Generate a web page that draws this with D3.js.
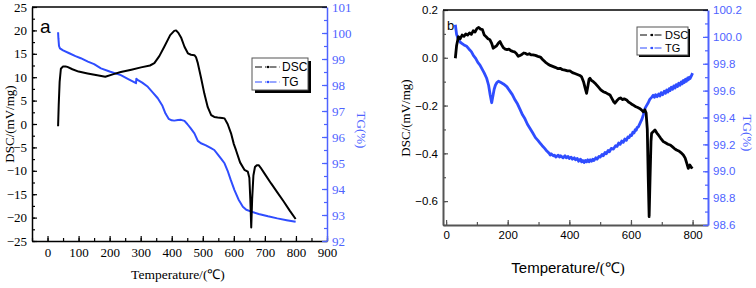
<!DOCTYPE html>
<html lang="en">
<head>
<meta charset="utf-8">
<title>DSC / TG</title>
<script src="https://cdnjs.cloudflare.com/ajax/libs/d3/7.8.5/d3.min.js"></script>
<style>
  body { margin: 0; background: #fff; }
  svg { display: block; }
</style>
</head>
<body>
<script>
// panel a : [temperature, value]
var dscA = [[34,-0.5],[36,4],[39,9],[43,11.8],[50,12.3],[58,12.3],[64,12.2],[80,11.7],[100,11.2],[129,10.8],[160,10.4],[186,10.1],[210,10.6],[236,11.1],[270,11.6],[301,12.1],[330,12.5],[344,13.0],[360,14.5],[376,16.5],[395,19.0],[408,19.9],[414,20.0],[422,19.4],[430,18.5],[441,16.5],[452,15.1],[462,14.8],[473,14.7],[478,14.3],[484,13.0],[494,10.0],[505,6.5],[516,3.6],[527,1.9],[537,1.5],[548,1.4],[562,1.3],[570,1.2],[580,0],[591,-2.0],[600,-4.3],[607,-5.6],[620,-8.2],[634,-9.8],[645,-10.2],[650,-11.5],[653,-16],[656,-22.1],[659,-16],[663,-11],[668,-9.2],[674,-8.8],[680,-8.8],[686,-9.3],[700,-10.7],[720,-12.7],[740,-14.6],[760,-16.5],[780,-18.5],[799,-20.3]];
var tgA = [[34,100.03],[35,99.8],[37,99.5],[40,99.41],[50,99.33],[70,99.22],[90,99.11],[107,99.03],[130,98.9],[150,98.8],[172,98.64],[200,98.52],[236,98.38],[260,98.23],[285,98.07],[286,98.24],[290,98.2],[305,98.09],[323,97.93],[340,97.7],[355,97.49],[370,97.2],[380,96.9],[390,96.7],[400,96.64],[408,96.63],[420,96.65],[430,96.66],[441,96.62],[450,96.5],[460,96.35],[473,96.14],[484,95.85],[494,95.76],[510,95.68],[525,95.58],[537,95.5],[550,95.3],[560,95.15],[570,94.99],[580,94.7],[590,94.35],[602,93.96],[615,93.6],[629,93.32],[640,93.2],[656,93.13],[680,93.04],[710,92.95],[740,92.87],[770,92.8],[799,92.74]];

// panel b : [temperature, value]
var dscB = [[30,-0.002],[34,0.05],[40,0.088],[46,0.08],[52,0.095],[58,0.09],[64,0.1],[70,0.095],[76,0.104],[82,0.098],[88,0.113],[94,0.108],[100,0.122],[106,0.127],[112,0.12],[118,0.118],[124,0.095],[130,0.088],[136,0.08],[142,0.076],[148,0.06],[153,0.04],[158,0.045],[164,0.05],[170,0.062],[175,0.068],[180,0.055],[186,0.042],[192,0.036],[198,0.034],[204,0.036],[210,0.03],[216,0.027],[222,0.025],[228,0.018],[234,0.006],[240,0.01],[246,0.014],[252,0.02],[258,0.018],[264,0.014],[270,0.017],[276,0.012],[282,0.012],[290,0.01],[298,0.006],[306,0.003],[314,-0.008],[322,-0.018],[330,-0.026],[338,-0.032],[346,-0.036],[354,-0.04],[362,-0.045],[370,-0.044],[378,-0.05],[386,-0.052],[394,-0.055],[402,-0.055],[410,-0.062],[418,-0.066],[426,-0.07],[434,-0.074],[440,-0.08],[446,-0.1],[452,-0.13],[456,-0.149],[460,-0.12],[464,-0.09],[467,-0.086],[472,-0.095],[478,-0.1],[486,-0.11],[494,-0.122],[502,-0.134],[510,-0.142],[518,-0.146],[526,-0.152],[532,-0.156],[538,-0.17],[544,-0.184],[548,-0.19],[554,-0.18],[560,-0.172],[566,-0.168],[572,-0.175],[578,-0.172],[586,-0.177],[592,-0.185],[598,-0.19],[604,-0.196],[610,-0.2],[616,-0.205],[622,-0.208],[628,-0.212],[634,-0.218],[640,-0.226],[645,-0.218],[649,-0.23],[653,-0.3],[656,-0.5],[659,-0.665],[662,-0.5],[665,-0.35],[667,-0.316],[672,-0.31],[678,-0.302],[684,-0.315],[689,-0.323],[696,-0.336],[705,-0.351],[712,-0.356],[720,-0.362],[727,-0.365],[734,-0.372],[741,-0.38],[748,-0.386],[755,-0.39],[762,-0.397],[770,-0.407],[776,-0.42],[782,-0.445],[786,-0.463],[791,-0.449],[796,-0.46],[800,-0.456]];
var tgB = [[30,100.09],[34,100.02],[40,99.98],[46,99.96],[52,99.95],[58,99.94],[67,99.93],[74,99.91],[82,99.89],[89,99.86],[96,99.84],[103,99.81],[110,99.79],[117,99.76],[124,99.73],[132,99.69],[138,99.64],[143,99.57],[148,99.51],[152,99.56],[156,99.61],[160,99.64],[165,99.66],[170,99.67],[178,99.66],[186,99.65],[197,99.63],[206,99.6],[215,99.57],[224,99.53],[232,99.5],[240,99.46],[248,99.42],[256,99.39],[264,99.35],[272,99.32],[280,99.29],[290,99.25],[298,99.23],[305,99.21],[312,99.19],[320,99.17],[327,99.15],[334,99.135],[338,99.12],[341,99.13],[348,99.115],[352,99.12],[356,99.105],[364,99.12],[368,99.105],[372,99.115],[380,99.1],[386,99.115],[390,99.1],[396,99.11],[400,99.095],[406,99.105],[410,99.09],[416,99.1],[420,99.085],[426,99.095],[430,99.075],[436,99.09],[440,99.07],[444,99.08],[448,99.065],[452,99.08],[456,99.07],[460,99.085],[464,99.07],[468,99.085],[472,99.075],[476,99.09],[480,99.08],[486,99.1],[490,99.09],[496,99.11],[500,99.105],[506,99.125],[510,99.115],[516,99.14],[520,99.13],[526,99.155],[530,99.145],[536,99.17],[543,99.165],[550,99.19],[555,99.185],[560,99.21],[565,99.2],[570,99.225],[575,99.215],[580,99.24],[585,99.23],[590,99.255],[594,99.25],[598,99.27],[602,99.265],[606,99.29],[610,99.285],[614,99.31],[617,99.305],[620,99.325],[624,99.33],[630,99.36],[636,99.39],[640,99.42],[646,99.47],[651,99.49],[656,99.51],[661,99.535],[667,99.55],[672,99.565],[676,99.55],[680,99.57],[685,99.555],[690,99.575],[694,99.56],[698,99.585],[703,99.57],[708,99.595],[712,99.58],[716,99.605],[720,99.59],[724,99.615],[727,99.6],[731,99.625],[735,99.61],[739,99.635],[743,99.62],[747,99.645],[751,99.63],[755,99.655],[759,99.64],[763,99.665],[766,99.65],[770,99.675],[773,99.66],[777,99.685],[780,99.67],[784,99.695],[786,99.68],[790,99.7],[792,99.69],[796,99.71],[800,99.73]];

var xTicksA = d3.range(0, 901, 100), xMinorA = d3.range(-50, 901, 50);
var yTicksA = d3.range(-25, 26, 5), yMinorA = d3.range(-25, 25.1, 2.5);
var rTicksA = d3.range(92, 101.1, 1), rMinorA = d3.range(92, 101.1, 0.5);
var xTicksB = d3.range(0, 801, 200), xMinorB = d3.range(0, 801, 100);
var yTicksB = [-0.6, -0.4, -0.2, 0.0, 0.2], yMinorB = [-0.7, -0.6, -0.5, -0.4, -0.3, -0.2, -0.1, 0, 0.1, 0.2];
var rTicksB = [98.6, 98.8, 99.0, 99.2, 99.4, 99.6, 99.8, 100.0, 100.2];
var rMinorB = [98.6, 98.7, 98.8, 98.9, 99.0, 99.1, 99.2, 99.3, 99.4, 99.5, 99.6, 99.7, 99.8, 99.9, 100.0, 100.1, 100.2];

var BLUE = "#2f4dff", AXBLUE = "#4e63ff";
var svg = d3.select("body").append("svg").attr("width", 756).attr("height", 288);

function panel(c) {
  var x = d3.scaleLinear().domain(c.xDom).range([c.l, c.r]);
  var y = d3.scaleLinear().domain(c.yDom).range([c.b, c.t]);
  var y2 = d3.scaleLinear().domain(c.y2Dom).range([c.b, c.t]);
  var g = svg.append("g");

  // one axis = labelled major ticks + short minor ticks, both pointing inward
  function ax(axis, tr, ticks, minor, fmt, col, txtCol, pad) {
    var a = g.append("g").attr("transform", tr)
      .call(axis.tickValues(ticks).tickFormat(fmt).tickSizeInner(-5).tickSizeOuter(0).tickPadding(pad));
    var m = g.append("g").attr("transform", tr)
      .call(axis.tickValues(minor).tickFormat("").tickSizeInner(-3).tickSizeOuter(0));
    m.select(".domain").remove();
    a.attr("font-family", c.tickFont).attr("font-size", c.tickSize);
    a.selectAll("line").attr("stroke", col).attr("stroke-width", 1.2);
    m.selectAll("line").attr("stroke", col).attr("stroke-width", 1.2);
    a.select(".domain").attr("stroke", col).attr("stroke-width", c.axW);
    a.selectAll("text").attr("fill", txtCol)
      .style("font-family", c.tickFont).style("font-size", c.tickSize + "px");
  }

  ax(d3.axisBottom(x), "translate(0," + c.b + ")", c.xTicks, c.xMinor, c.xFmt, c.axCol, "#000", c.xPad);
  ax(d3.axisLeft(y), "translate(" + c.l + ",0)", c.yTicks, c.yMinor, c.yFmt, c.axCol, "#000", c.yPad);
  ax(d3.axisRight(y2), "translate(" + c.r + ",0)", c.rTicks, c.rMinor, c.rFmt, AXBLUE, AXBLUE, c.yPad);

  g.append("line").attr("x1", c.l).attr("x2", c.r).attr("y1", c.t).attr("y2", c.t)
    .attr("stroke", "#000").attr("stroke-width", 1.3);

  var line = d3.line().x(function (d) { return x(d[0]); });
  g.append("path").datum(c.tg).attr("fill", "none").attr("stroke", BLUE)
    .attr("stroke-width", c.lw).attr("stroke-linejoin", "round")
    .attr("d", line.y(function (d) { return y2(d[1]); }));
  g.append("path").datum(c.dsc).attr("fill", "none").attr("stroke", "#000")
    .attr("stroke-width", c.lw).attr("stroke-linejoin", "round")
    .attr("d", line.y(function (d) { return y(d[1]); }));

  // panel letter
  g.append("text").attr("x", c.letter[0]).attr("y", c.letter[1]).text(c.name)
    .style("font-family", "Liberation Sans").style("font-size", c.letter[2] + "px");

  // titles
  g.append("text").attr("transform", "translate(" + c.yt[0] + "," + c.yt[1] + ") rotate(-90)")
    .attr("text-anchor", "middle").attr("dy", "0.35em").text("DSC/(mV/mg)")
    .style("font-family", "Liberation Serif").style("font-size", c.ytSize + "px");
  g.append("text").attr("transform", "translate(" + c.rt[0] + "," + c.rt[1] + ") rotate(90)")
    .attr("text-anchor", "middle").attr("dy", "0.35em").attr("fill", AXBLUE).text("TG(%)")
    .style("font-family", "Liberation Serif").style("font-size", c.ytSize + "px");
  var xt = g.append("text").attr("x", c.xt[0]).attr("y", c.xt[1]).attr("text-anchor", "middle")
    .style("font-size", c.xtSize + "px");
  xt.append("tspan").style("font-family", c.xtFont).text("Temperature/");
  xt.append("tspan").style("font-family", "Liberation Serif").text("(\u2103)");

  // legend
  var L = c.leg;
  g.append("rect").attr("x", L.x + L.sh).attr("y", L.y + L.sh).attr("width", L.w).attr("height", L.h).attr("fill", "#000");
  g.append("rect").attr("x", L.x).attr("y", L.y).attr("width", L.w).attr("height", L.h)
    .attr("fill", "#fff").attr("stroke", "#555").attr("stroke-width", 1);
  [["DSC", "#000"], ["TG", BLUE]].forEach(function (e, i) {
    var yy = L.y + L.row0 + i * L.dy;
    g.append("line").attr("x1", L.x + 3).attr("x2", L.x + L.sw).attr("y1", yy).attr("y2", yy)
      .attr("stroke", e[1]).attr("stroke-width", 1).attr("stroke-dasharray", "7,3,1.5,3");
    g.append("circle").attr("cx", L.x + 3 + L.sw / 2 - 1).attr("cy", yy).attr("r", 1.2).attr("fill", e[1]);
    g.append("text").attr("x", L.x + L.sw + 2).attr("y", yy).attr("dy", "0.36em").text(e[0])
      .style("font-family", "Liberation Sans").style("font-size", L.fs + "px");
  });
}

panel({
  name: "a", l: 32, r: 327, t: 7, b: 241,
  xDom: [-50, 900], yDom: [-25, 25], y2Dom: [92, 101],
  xTicks: xTicksA, xMinor: xMinorA, yTicks: yTicksA, yMinor: yMinorA, rTicks: rTicksA, rMinor: rMinorA,
  xFmt: d3.format("d"), yFmt: d3.format("d"), rFmt: d3.format("d"),
  xPad: 7, yPad: 5, axCol: "#000", axW: 1.5, lw: 2,
  tickFont: "Liberation Serif", tickSize: 13,
  dsc: dscA, tg: tgA,
  letter: [40, 33, 19],
  yt: [9, 124], rt: [362, 130], ytSize: 13,
  xt: [178, 279], xtSize: 13.5, xtFont: "Liberation Serif",
  leg: { x: 252, y: 58, w: 56, h: 32, sh: 3, sw: 28, row0: 9, dy: 15, fs: 12 }
});

panel({
  name: "b", l: 443, r: 708, t: 10, b: 225,
  xDom: [-10, 850], yDom: [-0.7, 0.2], y2Dom: [98.6, 100.2],
  xTicks: xTicksB, xMinor: xMinorB, yTicks: yTicksB, yMinor: yMinorB, rTicks: rTicksB, rMinor: rMinorB,
  xFmt: d3.format("d"), yFmt: d3.format(".1f"), rFmt: d3.format(".1f"),
  xPad: 6, yPad: 5, axCol: "#555", axW: 2, lw: 2.8,
  tickFont: "Liberation Sans", tickSize: 11.5,
  dsc: dscB, tg: tgB,
  letter: [447, 30, 13],
  yt: [405, 118], rt: [748, 133], ytSize: 13,
  xt: [568, 273], xtSize: 15, xtFont: "Liberation Sans",
  leg: { x: 637, y: 27, w: 51, h: 28, sh: 2, sw: 26, row0: 8, dy: 13, fs: 11 }
});
</script>
</body>
</html>
